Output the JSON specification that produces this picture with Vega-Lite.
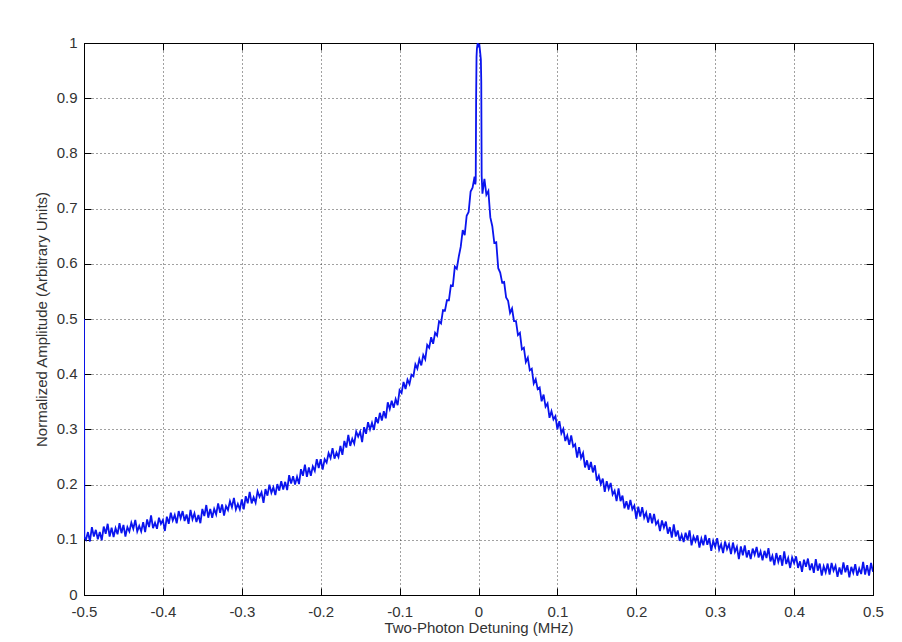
{
  "$schema": "https://vega.github.io/schema/vega-lite/v6.json",
  "width": 789,
  "height": 552,
  "autosize": "none",
  "padding": {"left": 84, "top": 43, "right": 29, "bottom": 47},
  "background": "white",
  "config": {
    "view": {"stroke": "black", "strokeWidth": 1},
    "axis": {
      "domainColor": "black",
      "tickColor": "black",
      "tickSize": -7,
      "labelFont": "Liberation Sans",
      "labelFontSize": 15,
      "labelColor": "#333333",
      "titleFont": "Liberation Sans",
      "titleFontSize": 15,
      "titleFontWeight": "normal",
      "titleColor": "#333333",
      "gridColor": "#222222",
      "gridOpacity": 0.85,
      "gridDash": [1, 3],
      "labelFlush": false,
      "labelOverlap": false
    }
  },
  "data": {"values": [
    {"x":-0.5,"y":0.5},{"x":-0.4995,"y":0.104},{"x":-0.4975,"y":0.100},{"x":-0.495,"y":0.114},{"x":-0.4925,"y":0.097},{"x":-0.49,"y":0.123},{"x":-0.4875,"y":0.106},{"x":-0.485,"y":0.118},{"x":-0.4825,"y":0.101},
    {"x":-0.48,"y":0.114},{"x":-0.4775,"y":0.099},{"x":-0.475,"y":0.124},{"x":-0.4725,"y":0.111},{"x":-0.47,"y":0.129},{"x":-0.4675,"y":0.106},{"x":-0.465,"y":0.122},{"x":-0.4625,"y":0.105},
    {"x":-0.46,"y":0.121},{"x":-0.4575,"y":0.110},{"x":-0.455,"y":0.130},{"x":-0.4525,"y":0.112},{"x":-0.45,"y":0.127},{"x":-0.4475,"y":0.106},{"x":-0.445,"y":0.123},{"x":-0.4425,"y":0.115},
    {"x":-0.44,"y":0.131},{"x":-0.4375,"y":0.120},{"x":-0.435,"y":0.136},{"x":-0.4325,"y":0.115},{"x":-0.43,"y":0.125},{"x":-0.4275,"y":0.115},{"x":-0.425,"y":0.132},{"x":-0.4225,"y":0.114},
    {"x":-0.42,"y":0.137},{"x":-0.4175,"y":0.123},{"x":-0.415,"y":0.144},{"x":-0.4125,"y":0.121},{"x":-0.41,"y":0.131},{"x":-0.4075,"y":0.120},{"x":-0.405,"y":0.140},{"x":-0.4025,"y":0.129},
    {"x":-0.40,"y":0.136},{"x":-0.3975,"y":0.116},{"x":-0.395,"y":0.142},{"x":-0.3925,"y":0.129},{"x":-0.39,"y":0.149},{"x":-0.3875,"y":0.135},{"x":-0.385,"y":0.145},{"x":-0.3825,"y":0.130},
    {"x":-0.38,"y":0.152},{"x":-0.3775,"y":0.139},{"x":-0.375,"y":0.152},{"x":-0.3725,"y":0.134},{"x":-0.37,"y":0.146},{"x":-0.3675,"y":0.129},{"x":-0.365,"y":0.154},{"x":-0.3625,"y":0.137},
    {"x":-0.36,"y":0.148},{"x":-0.3575,"y":0.132},{"x":-0.355,"y":0.145},{"x":-0.3525,"y":0.130},{"x":-0.35,"y":0.156},{"x":-0.3475,"y":0.143},{"x":-0.345,"y":0.163},{"x":-0.3425,"y":0.140},
    {"x":-0.34,"y":0.156},{"x":-0.3375,"y":0.140},{"x":-0.335,"y":0.156},{"x":-0.3325,"y":0.146},{"x":-0.33,"y":0.166},{"x":-0.3275,"y":0.149},{"x":-0.325,"y":0.164},{"x":-0.3225,"y":0.144},
    {"x":-0.32,"y":0.161},{"x":-0.3175,"y":0.154},{"x":-0.315,"y":0.170},{"x":-0.3125,"y":0.159},{"x":-0.31,"y":0.176},{"x":-0.3075,"y":0.155},{"x":-0.305,"y":0.165},{"x":-0.3025,"y":0.155},
    {"x":-0.30,"y":0.173},{"x":-0.2975,"y":0.155},{"x":-0.295,"y":0.179},{"x":-0.2925,"y":0.166},{"x":-0.29,"y":0.187},{"x":-0.2875,"y":0.166},{"x":-0.285,"y":0.177},{"x":-0.2825,"y":0.167},
    {"x":-0.28,"y":0.188},{"x":-0.2775,"y":0.178},{"x":-0.275,"y":0.186},{"x":-0.2725,"y":0.167},{"x":-0.27,"y":0.192},{"x":-0.2675,"y":0.180},{"x":-0.265,"y":0.200},{"x":-0.2625,"y":0.185},
    {"x":-0.26,"y":0.195},{"x":-0.2575,"y":0.181},{"x":-0.255,"y":0.201},{"x":-0.2525,"y":0.189},{"x":-0.25,"y":0.206},{"x":-0.2475,"y":0.191},{"x":-0.245,"y":0.205},{"x":-0.2425,"y":0.190},
    {"x":-0.24,"y":0.217},{"x":-0.2375,"y":0.202},{"x":-0.235,"y":0.215},{"x":-0.2325,"y":0.200},{"x":-0.23,"y":0.214},{"x":-0.2275,"y":0.201},{"x":-0.225,"y":0.228},{"x":-0.2225,"y":0.216},
    {"x":-0.22,"y":0.236},{"x":-0.2175,"y":0.214},{"x":-0.215,"y":0.231},{"x":-0.2125,"y":0.216},{"x":-0.21,"y":0.233},{"x":-0.2075,"y":0.225},{"x":-0.205,"y":0.246},{"x":-0.2025,"y":0.230},
    {"x":-0.20,"y":0.246},{"x":-0.1975,"y":0.227},{"x":-0.195,"y":0.246},{"x":-0.1925,"y":0.240},{"x":-0.19,"y":0.257},{"x":-0.1875,"y":0.248},{"x":-0.185,"y":0.266},{"x":-0.1825,"y":0.247},
    {"x":-0.18,"y":0.258},{"x":-0.1775,"y":0.250},{"x":-0.175,"y":0.270},{"x":-0.1725,"y":0.254},{"x":-0.17,"y":0.279},{"x":-0.1675,"y":0.267},{"x":-0.165,"y":0.290},{"x":-0.1625,"y":0.270},
    {"x":-0.16,"y":0.283},{"x":-0.1575,"y":0.274},{"x":-0.155,"y":0.296},{"x":-0.1525,"y":0.287},{"x":-0.15,"y":0.296},{"x":-0.1475,"y":0.277},{"x":-0.145,"y":0.304},{"x":-0.1425,"y":0.292},
    {"x":-0.14,"y":0.313},{"x":-0.1375,"y":0.300},{"x":-0.135,"y":0.312},{"x":-0.1325,"y":0.299},{"x":-0.13,"y":0.322},{"x":-0.1275,"y":0.311},{"x":-0.125,"y":0.330},{"x":-0.1225,"y":0.316},
    {"x":-0.12,"y":0.333},{"x":-0.1175,"y":0.320},{"x":-0.115,"y":0.349},{"x":-0.1125,"y":0.337},{"x":-0.11,"y":0.352},{"x":-0.1075,"y":0.339},{"x":-0.105,"y":0.355},{"x":-0.1025,"y":0.344},
    {"x":-0.10,"y":0.371},{"x":-0.0975,"y":0.366},{"x":-0.095,"y":0.386},{"x":-0.0925,"y":0.373},{"x":-0.09,"y":0.390},{"x":-0.0875,"y":0.382},{"x":-0.085,"y":0.399},{"x":-0.0825,"y":0.396},
    {"x":-0.08,"y":0.418},{"x":-0.0775,"y":0.410},{"x":-0.075,"y":0.427},{"x":-0.0725,"y":0.416},{"x":-0.07,"y":0.435},{"x":-0.0675,"y":0.427},{"x":-0.065,"y":0.453},{"x":-0.0625,"y":0.448},
    {"x":-0.06,"y":0.467},{"x":-0.0575,"y":0.455},{"x":-0.055,"y":0.475},{"x":-0.0525,"y":0.470},{"x":-0.05,"y":0.496},{"x":-0.0475,"y":0.492},{"x":-0.045,"y":0.516},{"x":-0.0425,"y":0.515},
    {"x":-0.04,"y":0.534},{"x":-0.0375,"y":0.534},{"x":-0.035,"y":0.561},{"x":-0.0325,"y":0.560},{"x":-0.03,"y":0.595},{"x":-0.0275,"y":0.591},{"x":-0.025,"y":0.613},{"x":-0.0225,"y":0.631},
    {"x":-0.02,"y":0.661},{"x":-0.0175,"y":0.652},{"x":-0.015,"y":0.687},{"x":-0.0125,"y":0.694},{"x":-0.01,"y":0.731},{"x":-0.0075,"y":0.738},{"x":-0.005,"y":0.758},{"x":-0.004,"y":0.744},
    {"x":-0.0035,"y":0.752},{"x":-0.003,"y":0.90},{"x":-0.0025,"y":0.975},{"x":-0.002,"y":0.99},{"x":-0.001,"y":1.0},{"x":0,"y":0.992},{"x":0.001,"y":0.998},{"x":0.002,"y":0.985},{"x":0.003,"y":0.97},{"x":0.0035,"y":0.93},{"x":0.004,"y":0.76},
    {"x":0.005,"y":0.727},{"x":0.0075,"y":0.754},{"x":0.01,"y":0.725},{"x":0.0125,"y":0.732},{"x":0.015,"y":0.684},{"x":0.0175,"y":0.668},{"x":0.02,"y":0.638},{"x":0.0225,"y":0.639},
    {"x":0.025,"y":0.592},{"x":0.0275,"y":0.584},{"x":0.03,"y":0.566},{"x":0.0325,"y":0.567},{"x":0.035,"y":0.539},{"x":0.0375,"y":0.533},
    {"x":0.04,"y":0.511},{"x":0.0425,"y":0.519},{"x":0.045,"y":0.496},{"x":0.0475,"y":0.496},{"x":0.05,"y":0.471},{"x":0.0525,"y":0.475},{"x":0.055,"y":0.445},{"x":0.0575,"y":0.448},
    {"x":0.06,"y":0.422},{"x":0.0625,"y":0.430},{"x":0.065,"y":0.407},{"x":0.0675,"y":0.410},{"x":0.07,"y":0.383},{"x":0.0725,"y":0.391},{"x":0.075,"y":0.373},{"x":0.0775,"y":0.376},
    {"x":0.08,"y":0.351},{"x":0.0825,"y":0.363},{"x":0.085,"y":0.341},{"x":0.0875,"y":0.347},{"x":0.09,"y":0.321},{"x":0.0925,"y":0.333},{"x":0.095,"y":0.318},{"x":0.0975,"y":0.324},
    {"x":0.10,"y":0.300},{"x":0.1025,"y":0.315},{"x":0.105,"y":0.293},{"x":0.1075,"y":0.301},{"x":0.11,"y":0.279},{"x":0.1125,"y":0.289},{"x":0.115,"y":0.272},{"x":0.1175,"y":0.289},
    {"x":0.12,"y":0.269},{"x":0.1225,"y":0.273},{"x":0.125,"y":0.249},{"x":0.1275,"y":0.268},{"x":0.13,"y":0.248},{"x":0.1325,"y":0.257},{"x":0.135,"y":0.231},{"x":0.1375,"y":0.244},
    {"x":0.14,"y":0.227},{"x":0.1425,"y":0.241},{"x":0.145,"y":0.222},{"x":0.1475,"y":0.235},{"x":0.15,"y":0.207},{"x":0.1525,"y":0.216},{"x":0.155,"y":0.201},{"x":0.1575,"y":0.211},
    {"x":0.16,"y":0.187},{"x":0.1625,"y":0.206},{"x":0.165,"y":0.192},{"x":0.1675,"y":0.203},{"x":0.17,"y":0.182},{"x":0.1725,"y":0.189},{"x":0.175,"y":0.170},{"x":0.1775,"y":0.193},
    {"x":0.18,"y":0.170},{"x":0.1825,"y":0.180},{"x":0.185,"y":0.157},{"x":0.1875,"y":0.170},{"x":0.19,"y":0.155},{"x":0.1925,"y":0.172},{"x":0.195,"y":0.155},{"x":0.1975,"y":0.162},
    {"x":0.20,"y":0.138},{"x":0.2025,"y":0.160},{"x":0.205,"y":0.142},{"x":0.2075,"y":0.159},{"x":0.21,"y":0.140},{"x":0.2125,"y":0.149},{"x":0.215,"y":0.131},{"x":0.2175,"y":0.148},
    {"x":0.22,"y":0.130},{"x":0.2225,"y":0.147},{"x":0.225,"y":0.128},{"x":0.2275,"y":0.134},{"x":0.23,"y":0.116},{"x":0.2325,"y":0.135},{"x":0.235,"y":0.122},{"x":0.2375,"y":0.133},
    {"x":0.24,"y":0.111},{"x":0.2425,"y":0.123},{"x":0.245,"y":0.104},{"x":0.2475,"y":0.128},{"x":0.25,"y":0.106},{"x":0.2525,"y":0.117},{"x":0.255,"y":0.098},{"x":0.2575,"y":0.109},
    {"x":0.26,"y":0.096},{"x":0.2625,"y":0.113},{"x":0.265,"y":0.099},{"x":0.2675,"y":0.117},{"x":0.27,"y":0.090},{"x":0.2725,"y":0.106},{"x":0.275,"y":0.097},{"x":0.2775,"y":0.108},
    {"x":0.28,"y":0.086},{"x":0.2825,"y":0.102},{"x":0.285,"y":0.090},{"x":0.2875,"y":0.109},{"x":0.29,"y":0.091},{"x":0.2925,"y":0.103},{"x":0.295,"y":0.080},{"x":0.2975,"y":0.098},
    {"x":0.30,"y":0.087},{"x":0.3025,"y":0.103},{"x":0.305,"y":0.082},{"x":0.3075,"y":0.092},{"x":0.31,"y":0.076},{"x":0.3125,"y":0.097},{"x":0.315,"y":0.083},{"x":0.3175,"y":0.092},
    {"x":0.32,"y":0.074},{"x":0.3225,"y":0.095},{"x":0.325,"y":0.078},{"x":0.3275,"y":0.087},{"x":0.33,"y":0.065},{"x":0.3325,"y":0.088},{"x":0.335,"y":0.072},{"x":0.3375,"y":0.090},
    {"x":0.34,"y":0.068},{"x":0.3425,"y":0.081},{"x":0.345,"y":0.065},{"x":0.3475,"y":0.084},{"x":0.35,"y":0.073},{"x":0.3525,"y":0.087},{"x":0.355,"y":0.068},{"x":0.3575,"y":0.079},
    {"x":0.36,"y":0.063},{"x":0.3625,"y":0.080},{"x":0.365,"y":0.067},{"x":0.3675,"y":0.085},{"x":0.37,"y":0.061},{"x":0.3725,"y":0.071},{"x":0.375,"y":0.054},{"x":0.3775,"y":0.076},
    {"x":0.38,"y":0.060},{"x":0.3825,"y":0.072},{"x":0.385,"y":0.053},{"x":0.3875,"y":0.079},{"x":0.39,"y":0.056},{"x":0.3925,"y":0.067},{"x":0.395,"y":0.049},{"x":0.3975,"y":0.068},
    {"x":0.40,"y":0.058},{"x":0.4025,"y":0.070},{"x":0.405,"y":0.049},{"x":0.4075,"y":0.061},{"x":0.41,"y":0.042},{"x":0.4125,"y":0.064},{"x":0.415,"y":0.051},{"x":0.4175,"y":0.066},
    {"x":0.42,"y":0.045},{"x":0.4225,"y":0.057},{"x":0.425,"y":0.040},{"x":0.4275,"y":0.065},{"x":0.43,"y":0.044},{"x":0.4325,"y":0.057},{"x":0.435,"y":0.035},{"x":0.4375,"y":0.052},
    {"x":0.44,"y":0.041},{"x":0.4425,"y":0.057},{"x":0.445,"y":0.037},{"x":0.4475,"y":0.058},{"x":0.45,"y":0.044},{"x":0.4525,"y":0.053},{"x":0.455,"y":0.033},{"x":0.4575,"y":0.050},
    {"x":0.46,"y":0.037},{"x":0.4625,"y":0.059},{"x":0.465,"y":0.041},{"x":0.4675,"y":0.054},{"x":0.47,"y":0.032},{"x":0.4725,"y":0.051},{"x":0.475,"y":0.040},{"x":0.4775,"y":0.056},
    {"x":0.48,"y":0.035},{"x":0.4825,"y":0.048},{"x":0.485,"y":0.038},{"x":0.4875,"y":0.060},{"x":0.49,"y":0.037},{"x":0.4925,"y":0.054},{"x":0.495,"y":0.035},{"x":0.4975,"y":0.058},{"x":0.5,"y":0.042}
  ]},
  "layer": [
    {
      "mark": {"type": "line", "color": "#0a14ee", "strokeWidth": 1.8, "clip": true},
      "encoding": {
        "x": {
          "field": "x", "type": "quantitative",
          "scale": {"domain": [-0.5, 0.5], "nice": false, "zero": false},
          "axis": {
            "orient": "bottom",
            "title": "Two-Photon Detuning (MHz)",
            "values": [-0.5, -0.4, -0.3, -0.2, -0.1, 0, 0.1, 0.2, 0.3, 0.4, 0.5],
            "labelExpr": "'' + round(datum.value * 10) / 10",
            "grid": true,
            "labelPadding": 16,
            "titlePadding": 1
          }
        },
        "y": {
          "field": "y", "type": "quantitative",
          "scale": {"domain": [0, 1], "nice": false},
          "axis": {
            "orient": "left",
            "title": "Normalized Amplitude (Arbitrary Units)",
            "values": [0, 0.1, 0.2, 0.3, 0.4, 0.5, 0.6, 0.7, 0.8, 0.9, 1],
            "labelExpr": "'' + round(datum.value * 10) / 10",
            "labelOffset": -1,
            "grid": true,
            "labelPadding": 14,
            "titlePadding": 7
          }
        }
      }
    },
    {
      "mark": {"type": "point", "opacity": 0},
      "encoding": {
        "x": {
          "datum": 0, "type": "quantitative",
          "scale": {"domain": [-0.5, 0.5], "nice": false, "zero": false},
          "axis": {"orient": "top", "title": null, "labels": false, "grid": false,
                   "values": [-0.5, -0.4, -0.3, -0.2, -0.1, 0, 0.1, 0.2, 0.3, 0.4, 0.5]}
        },
        "y": {
          "datum": 0, "type": "quantitative",
          "scale": {"domain": [0, 1], "nice": false},
          "axis": {"orient": "right", "title": null, "labels": false, "grid": false,
                   "values": [0, 0.1, 0.2, 0.3, 0.4, 0.5, 0.6, 0.7, 0.8, 0.9, 1]}
        }
      }
    }
  ],
  "resolve": {"axis": {"x": "independent", "y": "independent"}}
}
